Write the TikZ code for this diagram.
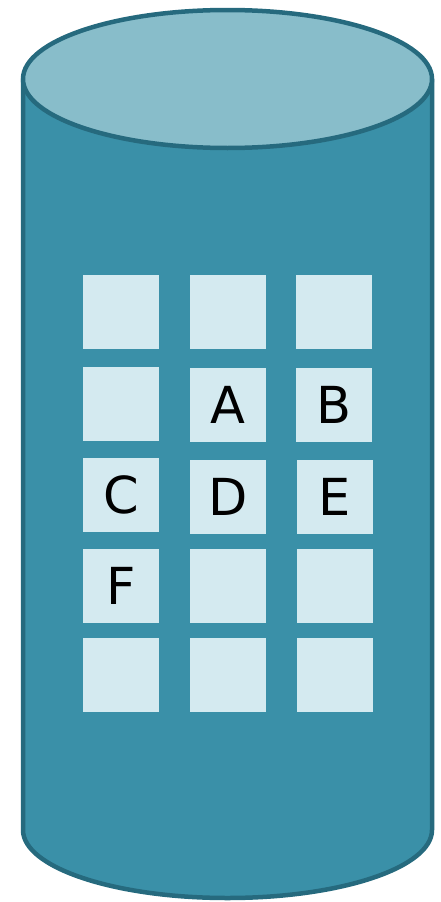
\documentclass[tikz,border=0pt]{standalone}
\usepackage{fontspec}
\setmainfont{DejaVu Sans}
\definecolor{bodyc}{HTML}{3A90A8}
\definecolor{topc}{HTML}{88BDCA}
\definecolor{edgec}{HTML}{266A7E}
\definecolor{cellc}{HTML}{D4EAF0}
\tikzset{
  cellbox/.style={fill=cellc, draw=none, minimum width=76pt, minimum height=74pt, inner sep=0pt, font=\fontsize{51}{51}\selectfont, text=black},
  cylline/.style={draw=edgec, line width=4.5pt, line join=round}
}
\begin{document}
\begin{tikzpicture}[x=1pt,y=-1pt]
\useasboundingbox (0,0) rectangle (441,902);
% cylinder body
\path[cylline, fill=bodyc] (23,79) -- (23,830) arc[start angle=180,end angle=0,x radius=204.5,y radius=68] -- (432,79) -- cycle;
% top
\path[cylline, fill=topc] (227.5,79) ellipse[x radius=204.5,y radius=69];
% cells
\node[cellbox] (r1c1) at (121,312) {};
\node[cellbox] (r1c2) at (228,312) {};
\node[cellbox] (r1c3) at (334,312) {};
\node[cellbox] (r2c1) at (121,404) {};
\node[cellbox] (r2c2) at (228,405) {A};
\node[cellbox] (r2c3) at (334,405) {B};
\node[cellbox] (r3c1) at (121,495) {C};
\node[cellbox] (r3c2) at (228,497) {D};
\node[cellbox] (r3c3) at (335,497) {E};
\node[cellbox] (r4c1) at (121,586) {F};
\node[cellbox] (r4c2) at (228,586) {};
\node[cellbox] (r4c3) at (335,586) {};
\node[cellbox] (r5c1) at (121,675) {};
\node[cellbox] (r5c2) at (228,675) {};
\node[cellbox] (r5c3) at (335,675) {};
\end{tikzpicture}
\end{document}
